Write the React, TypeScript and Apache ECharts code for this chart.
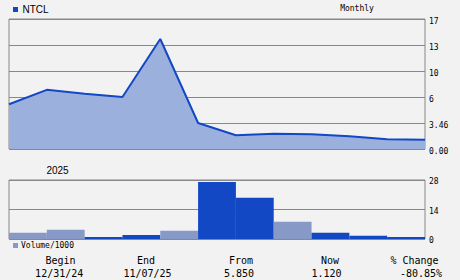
import React, { useEffect, useRef } from 'react';
import * as echarts from 'echarts';

// ---- data ----
const priceDates = ['12/31/24', '01/31/25', '02/28/25', '03/31/25', '04/30/25', '05/31/25', '06/30/25', '07/31/25', '08/31/25', '09/30/25', '10/31/25', '11/07/25'];
const priceValues = [5.85, 7.74, 7.23, 6.8, 14.38, 3.4, 1.79, 2.0, 1.92, 1.66, 1.27, 1.22];
const volumeMonths = ['Jan', 'Feb', 'Mar', 'Apr', 'May', 'Jun', 'Jul', 'Aug', 'Sep', 'Oct', 'Nov'];
const volumeValues = [3.0, 4.4, 0.95, 1.9, 3.95, 27.0, 19.6, 8.2, 3.0, 1.57, 0.95];
const volumeLight = [true, true, false, false, true, false, false, true, false, false, false];
const priceTickLabels = ['0.00', '3.46', '6', '10', '13', '17'];
const volumeTickLabels = ['0', '14', '28'];
const summaryHeaders = ['Begin', 'End', 'From', 'Now', '% Change'];
const summaryValues = ['12/31/24', '11/07/25', '5.850', '1.120', '-80.85%'];
const tickerName = 'NTCL';
const periodLabel = 'Monthly';
const yearLabel = '2025';
const volumeLabel = 'Volume/1000';

// ---- layout ----
const headerX = [60.5, 146, 241, 330, 414.5];
const valueX = [59.2, 147.5, 239, 326.5, 421];
const DARK = '#1248c4';
const LIGHT_BAR = '#8799c6';
const AREA = '#9cb0de';
const GRID = '#888888';
const MONO = '"DejaVu Sans Mono", monospace';
const SANS = '"Liberation Sans", Arial, sans-serif';

export default function App() {
  const ref = useRef<HTMLDivElement>(null);
  useEffect(() => {
    if (!ref.current) return;
    const chart = echarts.init(ref.current, undefined, { renderer: 'svg' });
    const pMax = 17;
    const pInt = pMax / (priceTickLabels.length - 1);
    const graphic: any[] = [
      { type: 'rect', shape: { x: 13, y: 7, width: 5, height: 5 }, style: { fill: DARK } },
      { type: 'text', x: 22.5, y: 9.5, style: { text: tickerName, font: `10px ${SANS}`, fill: '#000', verticalAlign: 'middle' } },
      { type: 'text', x: 357, y: 8.5, style: { text: periodLabel, font: `8px ${MONO}`, fill: '#000', align: 'center', verticalAlign: 'middle' } },
      { type: 'text', x: 57.5, y: 170, style: { text: yearLabel, font: `10px ${SANS}`, fill: '#000', align: 'center', verticalAlign: 'middle' } },
      { type: 'rect', shape: { x: 13, y: 243, width: 5, height: 5 }, style: { fill: LIGHT_BAR } },
      { type: 'text', x: 21, y: 245.5, style: { text: volumeLabel, font: `8px ${MONO}`, fill: '#000', verticalAlign: 'middle' } },
    ];
    summaryHeaders.forEach((t, i) => {
      graphic.push({ type: 'text', x: headerX[i], y: 260, style: { text: t, font: `10px ${MONO}`, fill: '#000', align: 'center', verticalAlign: 'middle' } });
    });
    summaryValues.forEach((t, i) => {
      graphic.push({ type: 'text', x: valueX[i], y: 273, style: { text: t, font: `10px ${MONO}`, fill: '#000', align: 'center', verticalAlign: 'middle' } });
    });

    chart.setOption({
      animation: false,
      backgroundColor: '#f2f2f2',
      grid: [
        { left: 9, right: 35, top: 19, height: 130, show: true, borderColor: GRID, borderWidth: 1, backgroundColor: 'transparent' },
        { left: 9, right: 35, top: 180, height: 59, show: true, borderColor: GRID, borderWidth: 1, backgroundColor: 'transparent' },
      ],
      xAxis: [
        { type: 'category', gridIndex: 0, data: priceDates, boundaryGap: false, show: false },
        { type: 'category', gridIndex: 1, data: volumeMonths, boundaryGap: true, show: false },
      ],
      yAxis: [
        {
          type: 'value', gridIndex: 0, position: 'right', min: 0, max: pMax, interval: pInt,
          axisLine: { show: false }, axisTick: { show: false },
          splitLine: { show: true, lineStyle: { color: GRID, width: 1 } },
          axisLabel: {
            margin: 4, color: '#000', fontFamily: MONO, fontSize: 8, verticalAlign: 'top', lineHeight: 5,
            formatter: (v: number) => priceTickLabels[Math.round(v / pInt)] ?? '',
          },
        },
        {
          type: 'value', gridIndex: 1, position: 'right', min: 0, max: 28, interval: 14,
          axisLine: { show: false }, axisTick: { show: false },
          splitLine: { show: true, lineStyle: { color: GRID, width: 1 } },
          axisLabel: {
            margin: 4, color: '#000', fontFamily: MONO, fontSize: 8, verticalAlign: 'top', lineHeight: 3,
            formatter: (v: number) => volumeTickLabels[Math.round(v / 14)] ?? '',
          },
        },
      ],
      series: [
        {
          type: 'line', xAxisIndex: 0, yAxisIndex: 0, data: priceValues, symbol: 'none',
          lineStyle: { color: DARK, width: 2 }, areaStyle: { color: AREA, opacity: 1 },
        },
        {
          type: 'bar', xAxisIndex: 1, yAxisIndex: 1, barWidth: '100%', barCategoryGap: 0,
          data: volumeValues.map((v, i) => ({ value: v, itemStyle: { color: volumeLight[i] ? LIGHT_BAR : DARK } })),
        },
      ],
      graphic,
    });
    return () => chart.dispose();
  }, []);
  return <div ref={ref} style={{ position: 'fixed', left: 0, top: 0, width: 460, height: 280 }} />;
}
